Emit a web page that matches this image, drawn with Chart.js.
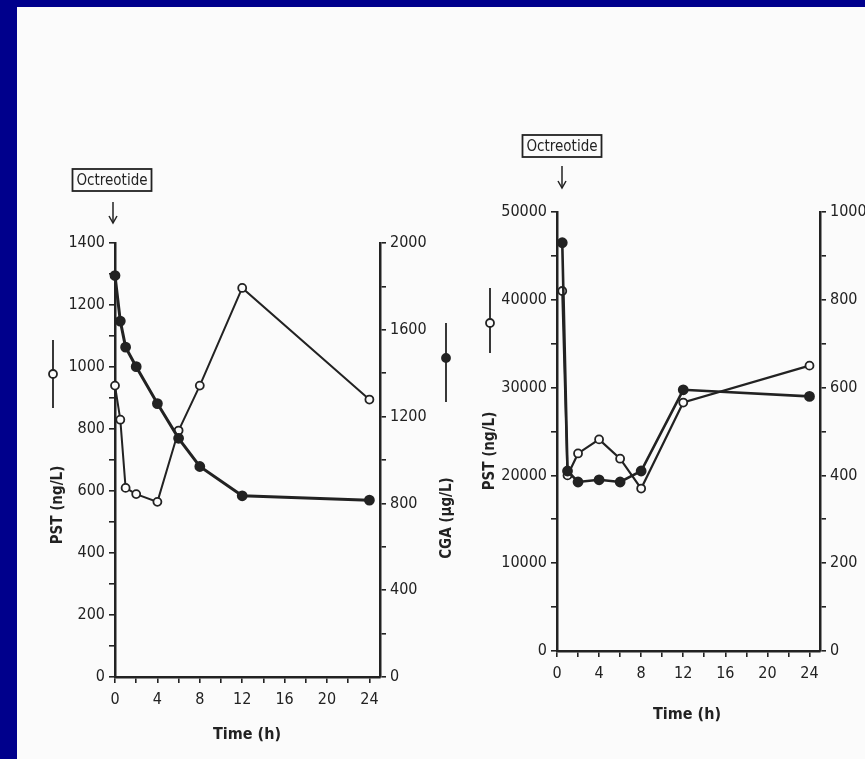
<!DOCTYPE html>
<html lang="en">
<head>
<meta charset="UTF-8">
<title>Octreotide - PST / CGA</title>
<script src="https://cdn.jsdelivr.net/npm/chart.js@4.4.0/dist/chart.umd.min.js"></script>
<style>
  html, body { margin: 0; padding: 0; }
  body { width: 865px; height: 759px; background: #00008c; position: relative; overflow: hidden; }
  .sheet { position: absolute; left: 17px; top: 7px; right: 0; bottom: 0; background: #fbfbfb; }
  canvas { position: absolute; }
  #chartLeft { left: 20px; top: 140px; }
  #chartRight { left: 470px; top: 130px; }
</style>
</head>
<body>
<div class="sheet"></div>
<canvas id="chartLeft" width="440" height="619"></canvas>
<canvas id="chartRight" width="395" height="629"></canvas>
<script>
// left panel (h / ng/L / ug/L)
var leftTime = [0, 0.5, 1, 2, 4, 6, 8, 12, 24];
var leftPST = [940, 830, 610, 590, 565, 795, 940, 1255, 895];
var leftCGA = [1850, 1640, 1520, 1430, 1260, 1100, 970, 835, 815];

// right panel
var rightTime = [0.5, 1, 2, 4, 6, 8, 12, 24];
var rightPST = [41000, 20000, 22500, 24100, 21900, 18500, 28300, 32500];
var rightCGA = [930, 410, 385, 390, 385, 410, 595, 580];

// labelled ticks
var timeTicks = [0, 4, 8, 12, 16, 20, 24];
var leftPSTTicks = [0, 200, 400, 600, 800, 1000, 1200, 1400];
var leftCGATicks = [0, 400, 800, 1200, 1600, 2000];
var rightPSTTicks = [0, 10000, 20000, 30000, 40000, 50000];
var rightCGATicks = [0, 200, 400, 600, 800, 1000];

var ink = '#222';
var fam = "'DejaVu Sans Condensed', 'Liberation Sans Narrow', 'DejaVu Sans', sans-serif";
Chart.defaults.font.family = fam;
Chart.defaults.color = ink;

function pts(xs, ys) {
   return xs.map(function (x, i) { return { x: x, y: ys[i] }; });
}

function onlyLabels(list) {
   return function (value) { return list.indexOf(value) >= 0 ? String(value) : ''; };
}

// tick marks every half step between the labelled ticks
function minorBetween(list) {
   var out = [];
   var half = (list[1] - list[0]) / 2;
   for (var i = 0; i < list.length; i++) {
      out.push({ value: list[i] });
      if (i < list.length - 1) out.push({ value: list[i] + half });
   }
   return out;
}

function axis(pos, min, max, labels, size) {
   var a = {
      type: 'linear',
      position: pos,
      min: min,
      max: max,
      border: { display: true, color: ink, width: 2.5 },
      grid: { display: true, drawOnChartArea: false, drawTicks: true, tickLength: 6, color: ink, lineWidth: 1.6 },
      afterBuildTicks: function (s) { s.ticks = minorBetween(labels); },
      ticks: {
         autoSkip: false,
         maxRotation: 0,
         padding: pos === 'bottom' ? 7 : 4,
         font: { size: 16 },
         color: ink,
         callback: onlyLabels(labels)
      }
   };
   if (pos === 'bottom') a.afterFit = function (s) { s.height = size; };
   else a.afterFit = function (s) { s.width = size; };
   return a;
}

// octreotide box, arrow, axis titles and the little legend keys
function decor(d) {
   return {
      id: 'decor',
      afterDraw: function (chart) {
         var c = chart.ctx;
         c.save();
         c.fillStyle = ink;
         c.strokeStyle = ink;
         c.textAlign = 'center';
         c.textBaseline = 'middle';

         c.font = '15px ' + fam;
         var w = c.measureText('Octreotide').width + 8;
         c.lineWidth = 1.8;
         c.strokeRect(d.boxX - w / 2, d.boxY - 11, w, 22);
         c.fillText('Octreotide', d.boxX, d.boxY + 1);

         c.lineWidth = 1.5;
         c.beginPath();
         c.moveTo(d.arrowX, d.arrowTop);
         c.lineTo(d.arrowX, d.arrowBottom);
         c.stroke();
         c.beginPath();
         c.moveTo(d.arrowX - 4, d.arrowBottom - 7);
         c.lineTo(d.arrowX, d.arrowBottom);
         c.lineTo(d.arrowX + 4, d.arrowBottom - 7);
         c.stroke();

         d.titles.forEach(function (t) {
            c.save();
            c.font = 'bold ' + t.size + 'px ' + fam;
            c.translate(t.x, t.y);
            if (t.rot) c.rotate(-Math.PI / 2);
            c.fillText(t.text, 0, 0);
            c.restore();
         });

         d.keys.forEach(function (k) {
            c.lineWidth = 1.8;
            c.beginPath();
            c.moveTo(k.x, k.top);
            c.lineTo(k.x, k.bottom);
            c.stroke();
            c.beginPath();
            c.arc(k.x, k.cy, 4, 0, Math.PI * 2);
            c.fillStyle = k.filled ? ink : '#fbfbfb';
            c.fill();
            c.stroke();
            c.fillStyle = ink;
         });
         c.restore();
      }
   };
}

function series(data, axisId, filled, lw) {
   return {
      data: data,
      yAxisID: axisId,
      borderColor: ink,
      borderWidth: lw,
      backgroundColor: filled ? ink : '#fbfbfb',
      pointBackgroundColor: filled ? ink : '#fbfbfb',
      pointBorderColor: ink,
      pointBorderWidth: 1.8,
      pointRadius: filled ? 4.5 : 4,
      pointHoverRadius: 4,
      tension: 0,
      clip: false
   };
}

var chartLeft = new Chart(document.getElementById('chartLeft'), {
   type: 'line',
   data: {
      datasets: [
         series(pts(leftTime, leftCGA), 'y1', true, 3),
         series(pts(leftTime, leftPST), 'y', false, 2)
      ]
   },
   options: {
      responsive: false,
      animation: false,
      layout: { padding: { top: 103, bottom: 42, left: 0, right: 0 } },
      plugins: { legend: { display: false }, tooltip: { enabled: false } },
      scales: {
         x: axis('bottom', 0, 25, timeTicks, 40),
         y: axis('left', 0, 1400, leftPSTTicks, 95),
         y1: axis('right', 0, 2000, leftCGATicks, 80)
      }
   },
   plugins: [decor({
      boxX: 92, boxY: 40, arrowX: 93, arrowTop: 62, arrowBottom: 83,
      titles: [
         { text: 'PST (ng/L)', x: 38, y: 365, rot: true, size: 15 },
         { text: 'CGA (\u00b5g/L)', x: 427, y: 378, rot: true, size: 15 },
         { text: 'Time (h)', x: 227, y: 595, rot: false, size: 16 }
      ],
      keys: [
         { x: 33, top: 200, bottom: 268, cy: 234, filled: false },
         { x: 426, top: 183, bottom: 262, cy: 218, filled: true }
      ]
   })]
});

var chartRight = new Chart(document.getElementById('chartRight'), {
   type: 'line',
   data: {
      datasets: [
         series(pts(rightTime, rightCGA), 'y1', true, 2.6),
         series(pts(rightTime, rightPST), 'y', false, 2.2)
      ]
   },
   options: {
      responsive: false,
      animation: false,
      layout: { padding: { top: 82, bottom: 68, left: 0, right: 0 } },
      plugins: { legend: { display: false }, tooltip: { enabled: false } },
      scales: {
         x: axis('bottom', 0, 25, timeTicks, 40),
         y: axis('left', 0, 50000, rightPSTTicks, 87),
         y1: axis('right', 0, 1000, rightCGATicks, 45)
      }
   },
   plugins: [decor({
      boxX: 92, boxY: 16, arrowX: 92, arrowTop: 36, arrowBottom: 58,
      titles: [
         { text: 'PST (ng/L)', x: 20, y: 321, rot: true, size: 15 },
         { text: 'Time (h)', x: 217, y: 585, rot: false, size: 16 }
      ],
      keys: [
         { x: 20, top: 158, bottom: 223, cy: 193, filled: false }
      ]
   })]
});
</script>
</body>
</html>
